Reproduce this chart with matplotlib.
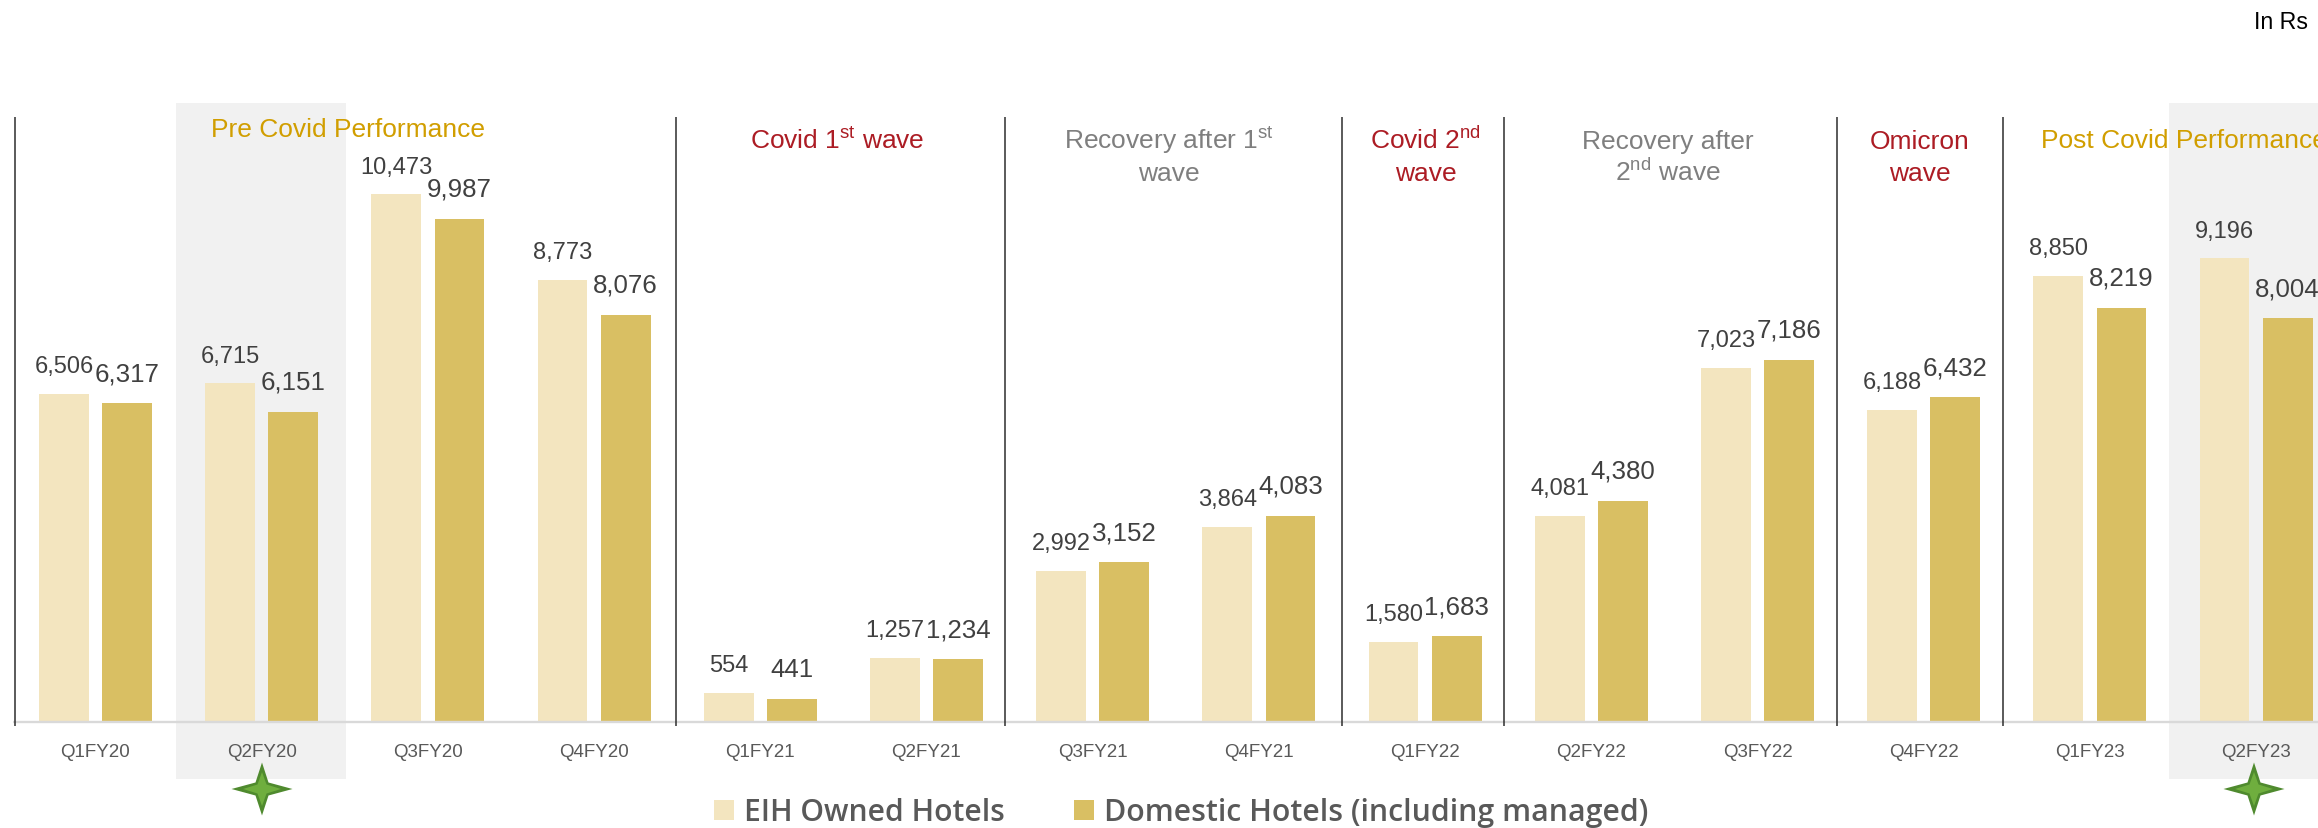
import matplotlib
matplotlib.use("Agg")
import matplotlib.pyplot as plt
import numpy as np
from matplotlib.patches import Rectangle, Polygon
from matplotlib.transforms import Affine2D

# ---- data ----
quarters = ["Q1FY20", "Q2FY20", "Q3FY20", "Q4FY20", "Q1FY21", "Q2FY21", "Q3FY21",
            "Q4FY21", "Q1FY22", "Q2FY22", "Q3FY22", "Q4FY22", "Q1FY23", "Q2FY23"]
eih_owned = [6506, 6715, 10473, 8773, 554, 1257, 2992, 3864, 1580, 4081, 7023, 6188, 8850, 9196]
domestic = [6317, 6151, 9987, 8076, 441, 1234, 3152, 4083, 1683, 4380, 7186, 6432, 8219, 8004]
series_names = ["EIH Owned Hotels", "Domestic Hotels (including managed)"]

W, H = 2318, 829
plt.rcParams["font.family"] = ["Liberation Sans", "DejaVu Sans"]
plt.rcParams["mathtext.fontset"] = "custom"
plt.rcParams["mathtext.rm"] = "Liberation Sans"
plt.rcParams["mathtext.it"] = "Liberation Sans"
plt.rcParams["mathtext.default"] = "regular"

fig = plt.figure(figsize=(W / 100, H / 100), dpi=100, facecolor="white")
ax = fig.add_axes([0, 0, 1, 1])
ax.set_axis_off()

step = 166.2
x0 = 95.5
base = 722.0
scale = 0.0503
ax.set_xlim(-x0 / step, (W - x0) / step)
ax.set_ylim(-(H - base) / scale, base / scale)

px = Affine2D().scale(1 / W, -1 / H).translate(0, 1) + fig.transFigure

LIGHT, DARK = "#F3E5BF", "#D9BF63"
GOLD, RED, GREY = "#D19E00", "#AC1C24", "#7F7F7F"
TXT = "#404040"

# highlight bands
for left, right in [(176, 346), (2169, 2318)]:
    ax.add_patch(Rectangle((left, 104), right - left, 676, transform=px,
                           fc="#F1F1F1", ec="none", zorder=0))

# bars
x = np.arange(len(quarters))
off, bw = 0.19, 0.30
ax.bar(x - off, eih_owned, bw, color=LIGHT, zorder=2)
ax.bar(x + off, domestic, bw, color=DARK, zorder=2)

# data labels
for xi, v in zip(x - off, eih_owned):
    ax.annotate(f"{v:,}", (xi, v), xytext=(0, 15.6), textcoords="offset points",
                ha="center", va="baseline", fontsize=17, color=TXT, zorder=5)
for xi, v in zip(x + off, domestic):
    ax.annotate(f"{v:,}", (xi, v), xytext=(0, 16.4), textcoords="offset points",
                ha="center", va="baseline", fontsize=18.6, color=TXT, zorder=5)

# baseline
ax.plot([13, W], [722.8, 722.8], transform=px, color="#D9D9D9", lw=1.7, zorder=3,
        solid_capstyle="butt")

# separators
for sx in [14.7, 675.5, 1005, 1342, 1504, 1837, 2003]:
    ax.plot([sx, sx], [118, 727], transform=px, color="#2E2E2E", lw=1.1, zorder=4,
            solid_capstyle="butt")

# category labels
for xi, q in zip(x, quarters):
    ax.annotate(q, (xi, 0), xytext=(0, -(757 - base) * 0.72), textcoords="offset points",
                ha="center", va="baseline", fontsize=13.5, color="#595959", zorder=5)


def header(px_x, px_y, s, color, ha="center"):
    ax.text(px_x, px_y, s, transform=px, ha=ha, va="baseline", fontsize=19,
            color=color, zorder=5)


header(210.7, 137, "Pre Covid Performance", GOLD, ha="left")
header(837, 149, "Covid 1$^{st}$ wave", RED)
header(1169, 149, "Recovery after 1$^{st}$", GREY)
header(1169, 181, "wave", GREY)
header(1425.5, 149, "Covid 2$^{nd}$", RED)
header(1425.5, 181, "wave", RED)
header(1668, 149, "Recovery after", GREY)
header(1668, 181, "2$^{nd}$ wave", GREY)
header(1920, 149, "Omicron", RED)
header(1920, 181, "wave", RED)
header(2040.7, 148, "Post Covid Performance", GOLD, ha="left")

ax.text(2254, 29, "In Rs", transform=px, ha="left", va="baseline", fontsize=16.7,
        color="black", zorder=5)


# stars
def star(cx, cy, rx, ry, r):
    pts = [(cx, cy - ry), (cx + r, cy - r), (cx + rx, cy), (cx + r, cy + r),
           (cx, cy + ry), (cx - r, cy + r), (cx - rx, cy), (cx - r, cy - r)]
    return pts


for cx in [262, 2254]:
    ax.add_patch(Polygon(star(cx, 790, 30.5, 26.5, 6.5), closed=True, transform=px,
                         fc="#4F8A2E", ec="none", zorder=6))
    ax.add_patch(Polygon(star(cx, 790, 19, 17, 4.5), closed=True, transform=px,
                         fc="#6FAE3E", ec="none", zorder=7))

# legend
for lx, c, tx, name, fs in [(714, LIGHT, 744, series_names[0], 21.6),
                            (1074, DARK, 1104, series_names[1], 21.75)]:
    ax.add_patch(Rectangle((lx, 801), 20, 20, transform=px, fc=c, ec="none", zorder=5))
    ax.text(tx, 821, name, transform=px, ha="left", va="baseline", fontsize=fs,
            family="Open Sans", weight="semibold", color="#595959", zorder=5)

fig.savefig("out.png", dpi=100, facecolor="white")
